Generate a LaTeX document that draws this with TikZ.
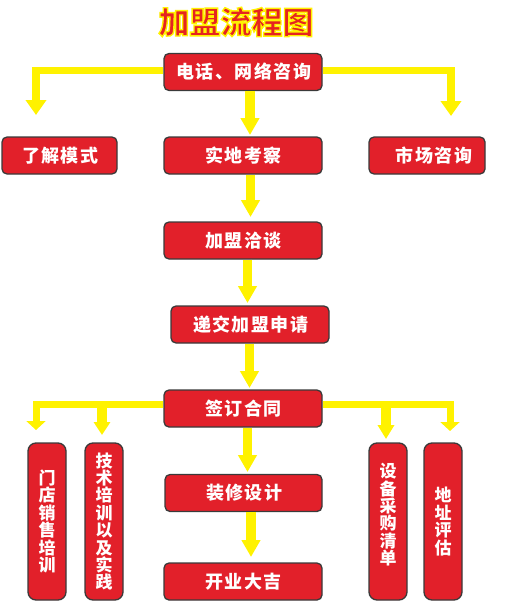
\documentclass[tikz,border=0pt]{standalone}
\usepackage{fontspec}
\newfontfamily\cjk{Noto Sans CJK SC}
\newfontfamily\cjkh[LetterSpace=8]{Noto Sans CJK SC}
\usetikzlibrary{arrows.meta}
\definecolor{boxred}{HTML}{E2202A}
\definecolor{boxline}{HTML}{3A3A3A}
\definecolor{ayellow}{HTML}{FFF200}
\definecolor{titlered}{HTML}{E52420}
\tikzset{
  hbox/.style={draw=boxline, line width=1.3pt, fill=boxred, rounded corners=5pt,
    minimum width=#1, minimum height=37pt, inner sep=0pt, text=white,
    font=\cjkh\bfseries\fontsize{18}{18}\selectfont},
  hbox/.default=158pt,
  vbox/.style={draw=boxline, line width=1.3pt, fill=boxred, rounded corners=8pt,
    minimum width=38pt, minimum height=157pt, inner sep=0pt, text=white, align=center,
    font=\cjk\bfseries\fontsize{17}{17.4}\selectfont},
  yline/.style={draw=ayellow, line width=#1},
  bigtip/.style={-{Triangle[width=18pt,length=17pt]}},
}
\begin{document}
\begin{tikzpicture}[x=1pt,y=-1pt]
\useasboundingbox (0,0) rectangle (511,610);
% title
\node (title) at (236,22) {\cjk\bfseries\fontsize{31}{31}\selectfont\color{titlered}\special{pdf:literal direct 1 0.949 0 RG 1.4 w 2 Tr}加盟流程图\special{pdf:literal direct 0 Tr}};
% horizontal boxes
\node[hbox] (tel) at (243,72) {\hspace{1.4pt}电话、网络咨询};
\node[hbox=115pt] (mode) at (59.5,155.5) {\hspace{1.4pt}了解模式};
\node[hbox] (site) at (243,155.5) {\hspace{1.4pt}实地考察};
\node[hbox=116pt] (market) at (427,155.5) {\hspace{14pt}市场咨询};
\node[hbox] (talk) at (243,240.5) {\hspace{1.4pt}加盟洽谈};
\node[hbox] (apply) at (250,324.5) {\hspace{1.4pt}递交加盟申请};
\node[hbox] (sign) at (243,408.5) {\hspace{1.4pt}签订合同};
\node[hbox=157pt] (deco) at (243.5,493) {\hspace{1.4pt}装修设计};
\node[hbox] (open) at (243,581.5) {\hspace{1.4pt}开业大吉};
% vertical boxes
\node[vbox] (v1) at (47,521.5) {门\\店\\销\\售\\培\\训};
\node[vbox] (v2) at (104,521.5) {技\\术\\培\\训\\以\\及\\实\\践};
\node[vbox] (v3) at (388,521.5) {设\\备\\采\\购\\清\\单\\[-2.4pt]\mbox{}};
\node[vbox] (v4) at (443,521.5) {地\\址\\评\\估};
% arrow end coordinates
\coordinate (t1) at (250,135);
\coordinate (t2) at (250.5,217);
\coordinate (t3) at (247.5,303);
\coordinate (t4) at (249.5,388);
\coordinate (t5) at (247.5,472);
\coordinate (t6) at (251,557);
\coordinate (tl) at (36,115);
\coordinate (tr) at (451,116);
\coordinate (sl1) at (36,430);
\coordinate (b2) at (102,401);
\coordinate (sl2) at (102,435);
\coordinate (sr2) at (450,431);
\coordinate (b3) at (386,401);
\coordinate (sr1) at (386,439);
% main arrows
\draw[yline=9.5pt, bigtip] (tel.south -| t1) -- (t1);
\draw[yline=9.5pt, bigtip] (site.south -| t2) -- (t2);
\draw[yline=9.5pt, bigtip] (talk.south -| t3) -- (t3);
\draw[yline=9.5pt, bigtip] (apply.south -| t4) -- (t4);
\draw[yline=9.5pt, bigtip] (sign.south -| t5) -- (t5);
\draw[yline=9.5pt, bigtip] (deco.south -| t6) -- (t6);
% side arrows from top box
\draw[yline=7.5pt, -{Triangle[width=20pt,length=15pt]}] ([yshift=1.5pt]tel.west) -| (tl);
\draw[yline=7.5pt, -{Triangle[width=20pt,length=15pt]}] ([yshift=1.5pt]tel.east) -| (tr);
% side arrows from sign box
\draw[yline=7pt, -{Triangle[width=19pt,length=9pt]}] ([yshift=4.5pt]sign.west) -| (sl1);
\draw[yline=10pt, -{Triangle[width=16pt,length=13pt]}] (b2) -- (sl2);
\draw[yline=7pt, -{Triangle[width=19pt,length=9pt]}] ([yshift=4.5pt]sign.east) -| (sr2);
\draw[yline=10pt, -{Triangle[width=16pt,length=14pt]}] (b3) -- (sr1);
\end{tikzpicture}
\end{document}
